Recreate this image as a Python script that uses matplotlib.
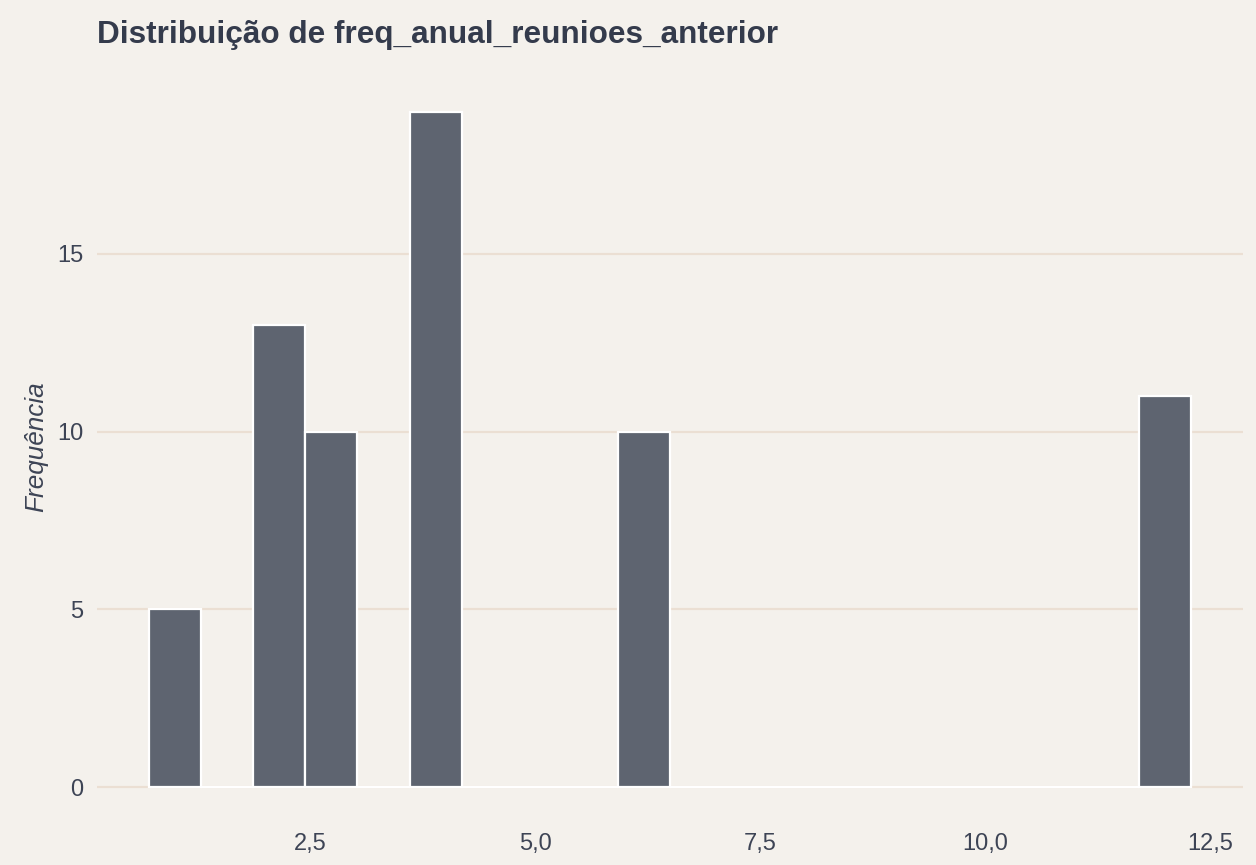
import matplotlib
matplotlib.use("Agg")
import matplotlib.pyplot as plt
import numpy as np

# data: observed values and their counts
values = [1, 2, 3, 4, 6, 12]
counts = [5, 13, 10, 19, 10, 11]
n_bins = 20
x_ticks = [2.5, 5.0, 7.5, 10.0, 12.5]
x_tick_labels = ["2,5", "5,0", "7,5", "10,0", "12,5"]
y_ticks = [0, 5, 10, 15]
y_tick_labels = ["0", "5", "10", "15"]
title = "Distribuição de freq_anual_reunioes_anterior"
ylabel = "Frequência"

plt.rcParams['font.family'] = ['Liberation Sans', 'DejaVu Sans']

bg = "#F4F1EC"
bar_color = "#5E6470"
grid_color = "#EBDFD3"
text_color = "#3D4455"

# ggplot-style bins: width = range/(bins-1), centered on min
lo, hi = min(values), max(values)
bw = (hi - lo) / (n_bins - 1)
edges = lo - bw / 2 + bw * np.arange(n_bins + 1)
data = np.repeat(values, counts)
hist, _ = np.histogram(data, bins=edges)

W, H = 1256, 865
fig = plt.figure(figsize=(W / 100, H / 100), dpi=100)
fig.patch.set_facecolor(bg)

left, right, top, bottom = 97, 1243, 78, 805
ax = fig.add_axes([left / W, 1 - bottom / H, (right - left) / W, (bottom - top) / H])
ax.set_facecolor(bg)

xpad = (edges[-1] - edges[0]) * 0.05
ax.set_xlim(edges[0] - xpad, edges[-1] + xpad)
ax.set_ylim(-0.5, 19.95)

for y in y_ticks:
    ax.axhline(y, color=grid_color, lw=1.6, zorder=0)

ax.bar(edges[:-1], hist, width=bw, align='edge', color=bar_color,
       edgecolor='white', linewidth=1.6, zorder=2)

ax.set_xticks(x_ticks)
ax.set_xticklabels(x_tick_labels)
ax.set_yticks(y_ticks)
ax.set_yticklabels(y_tick_labels)
ax.tick_params(axis='both', length=0, labelsize=17, colors=text_color)
ax.tick_params(axis='x', pad=20)
ax.tick_params(axis='y', pad=10)
for s in ax.spines.values():
    s.set_visible(False)

fig.text(36 / W, 1 - 447 / H, ylabel, fontsize=18.8, style='italic',
         color=text_color, rotation=90, ha='center', va='center')
fig.text(97 / W, 1 - 43 / H, title, fontsize=22.7, fontweight='bold',
         color="#343B4C", ha='left', va='baseline')

fig.savefig("out.png", dpi=100, facecolor=bg)
